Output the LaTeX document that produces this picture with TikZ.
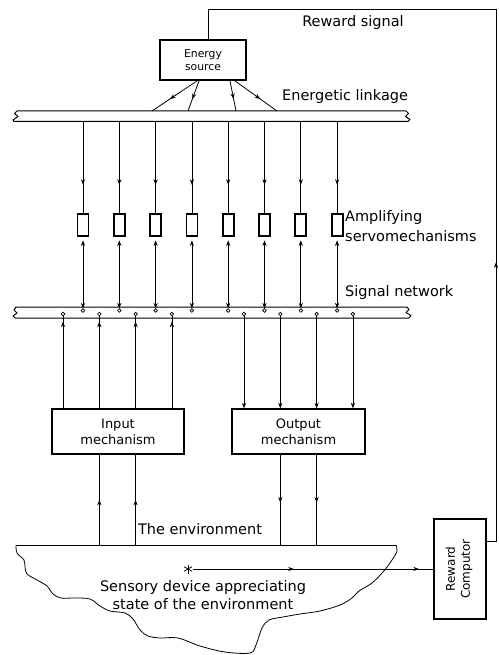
\documentclass[tikz,border=0pt]{standalone}
\usepackage{fontspec}
\setmainfont{DejaVu Sans}
\usetikzlibrary{arrows.meta,decorations.markings}
\tikzset{
  >={Stealth[length=5.5pt,width=4.2pt]},
  conn/.style={line width=0.8pt},
  midarr/.style={postaction={decorate,decoration={markings,mark=at position #1 with {\arrow{>}}}}},
  box/.style={draw,line width=1.4pt,align=center,inner sep=0pt},
  servo/.style={draw,line width=1.8pt,minimum width=11pt,minimum height=22pt,inner sep=0pt},
  dot/.style={circle,draw,line width=0.7pt,fill=white,inner sep=0pt,minimum size=3.6pt},
  lbl/.style={font=\fontsize{14.5}{18}\selectfont,inner sep=0pt},
  bar/.style={line width=1pt,line join=round},
}
\begin{document}
\begin{tikzpicture}[x=1pt,y=-1pt]
\useasboundingbox (0,0) rectangle (498,655);

% ---------- Energy source and reward signal ----------
\node[box,line width=1.8pt,minimum width=86pt,minimum height=40pt,
      font=\fontsize{10.8}{13}\selectfont] (es) at (203,60) {Energy\\source};
\node[lbl] (rsig) at (353,23) {Reward signal};
\node[lbl,anchor=west] (elink) at (282,97) {Energetic linkage};

% ---------- Energetic linkage bar ----------
\node[minimum width=394pt,minimum height=10.5pt,inner sep=0pt] (link) at (212,116.25) {};
\draw[bar] (17,111) -- (406,111) -- (408.5,113.5) -- (405.5,116.5) -- (410,119.5) -- (408,121.5)
  -- (14,121.5) -- (13,120) -- (18,116.5) -- (14.5,113.5) -- cycle;
\coordinate (e1) at (152,111);
\coordinate (e2) at (188,111);
\coordinate (e3) at (236,111);
\coordinate (e4) at (277,111);
\draw[conn,midarr=0.6] ([xshift=-6pt]es.south) -- (e1);
\draw[conn,midarr=0.6] ([xshift=-4pt]es.south) -- (e2);
\draw[conn,midarr=0.6] ([xshift=27pt]es.south) -- (e3);
\draw[conn,midarr=0.6] ([xshift=32pt]es.south) -- (e4);

% ---------- Signal network bar ----------
\node[minimum width=394pt,minimum height=11pt,inner sep=0pt] (net) at (212,312.5) {};
\draw[bar] (16,307) -- (407,307) -- (409,309.5) -- (406,312.5) -- (411,315.5) -- (409,318)
  -- (15,318) -- (13,316) -- (17,313) -- (14,310) -- cycle;

% ---------- Amplifying servomechanisms ----------
\foreach \i in {1,...,8} {
  \pgfmathsetmacro\xx{83+36.3*(\i-1)}
  \node[servo] (s\i) at (\xx,225) {};
  \node[dot] (u\i) at (\xx,310.5) {};
  \draw[conn,midarr=0.69] (s\i |- link.south) -- (s\i.north);
  \draw[conn,<->,shorten <=3.5pt] (s\i.south) -- (u\i);
}
\node[lbl,anchor=west,align=left,font=\fontsize{14.5}{20}\selectfont] (amp) at (345,226) {Amplifying\\servomechanisms};
\node[lbl,anchor=west] (snet) at (345,292) {Signal network};

% ---------- Input / output mechanisms ----------
\node[box,minimum width=132pt,minimum height=45pt,font=\fontsize{13}{16}\selectfont] (in) at (118,431.5) {Input\\mechanism};
\node[box,minimum width=133pt,minimum height=45pt,font=\fontsize{13}{16}\selectfont] (out) at (298.5,431.5) {Output\\mechanism};

\foreach \i in {1,...,4} {
  \pgfmathsetmacro\px{63+36.3*(\i-1)}
  \pgfmathsetmacro\qx{244+36.3*(\i-1)}
  \node[dot] (p\i) at (\px,314) {};
  \node[dot] (q\i) at (\qx,314) {};
  \draw[conn,midarr=0.94] (p\i |- in.north) -- (p\i);
  \draw[conn,->] (q\i) -- (q\i |- out.north);
}

% ---------- Environment ----------
\coordinate (envtop) at (16,545);
\coordinate (envend) at (396,545);
\draw[conn] (envend) -- (envtop);
\draw[conn] plot[smooth,tension=0.55] coordinates {
  (16,545) (17,553) (24,560) (25,567) (27,574) (37,580) (47,586) (53,594) (61,598)
  (75,598) (90,599) (100,606) (110,611) (125,613) (133,619) (140,630) (148,636)
  (160,638) (178,638) (200,646) (225,652) (250,653) (256,645) (262,628) (269,620)
  (283,617) (300,614) (320,611) (340,605) (352,598) (359,591) (372,583) (383,572)
  (392,560) (397,551) (396,545)};

\draw[conn,midarr=0.5] (p2 |- envtop) -- (p2 |- in.south);
\draw[conn,midarr=0.5] (p3 |- envtop) -- (p3 |- in.south);
\draw[conn,midarr=0.53] (q2 |- out.south) -- (q2 |- envtop);
\draw[conn,midarr=0.53] (q3 |- out.south) -- (q3 |- envtop);

\node[lbl] (envlbl) at (200,529) {The environment};
\node[lbl,align=center] (sens) at (203,595) {Sensory device appreciating\\state of the environment};

% sensory device (asterisk)
\node[circle,inner sep=0pt,minimum size=9pt] (ast) at (188,569) {};
\foreach \a in {90,30,150}
  \draw[line width=0.8pt] ([shift={(\a:4.5)}]ast.center) -- ([shift={(\a+180:4.5)}]ast.center);

% ---------- Reward computor ----------
\node[box,minimum width=52pt,minimum height=100pt] (rc) at (460,569) {};
\node[rotate=90,align=center,inner sep=0pt,font=\fontsize{12}{15}\selectfont] (rctext) at ([xshift=-1pt]rc.center) {Reward\\Computor};

\draw[conn,midarr=0.42,midarr=0.94] (ast) -- (rc.west);

\coordinate (rcorner) at (496,9);
\draw[conn,midarr=0.335] ([yshift=28pt]rc.east) -| (rcorner) -| ([xshift=5pt]es.north);
\end{tikzpicture}
\end{document}
